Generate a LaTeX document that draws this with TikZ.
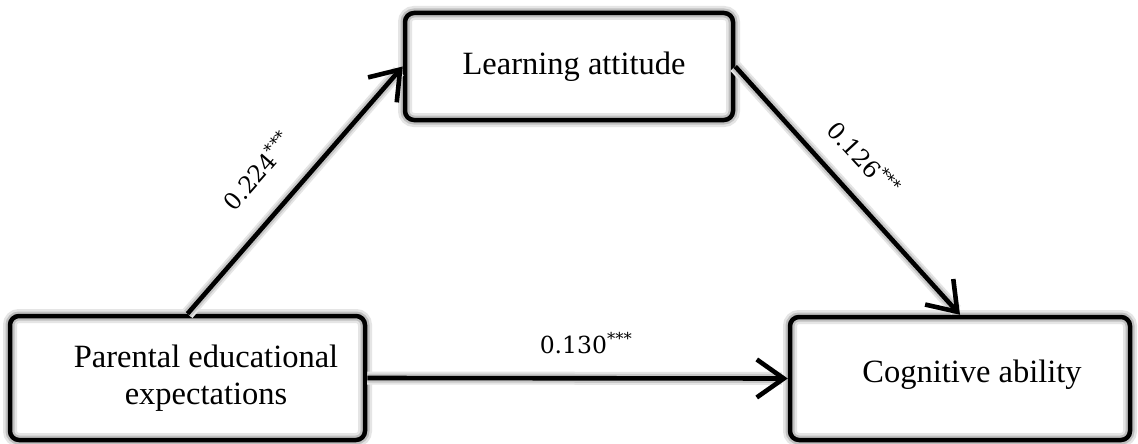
\documentclass[tikz,border=0pt]{standalone}
\usepackage{fontspec}
\setmainfont{Liberation Serif}
\newfontfamily\numfont{DejaVu Serif}
\usetikzlibrary{arrows.meta}
\tikzset{
  box/.style={rounded corners=9pt, line width=4.5pt, draw=black, inner sep=0pt,
    preaction={fill=white},
    preaction={draw=black!10, line width=14pt},
    preaction={draw=black!25, line width=9pt}},
  boxtext/.style={font=\fontsize{32.5}{37.5}\selectfont, align=center, inner sep=0pt},
  arr/.style={line width=4.6pt, -{Straight Barb[length=27pt,width=38pt]},
    preaction={draw=black!10, line width=13pt, arrows=-, shorten >=6pt},
    preaction={draw=black!22, line width=9pt, arrows=-, shorten >=6pt}},
  coef/.style={font=\numfont\fontsize{23.5}{28}\selectfont, inner sep=0pt}
}
\begin{document}
\begin{tikzpicture}[x=1pt,y=-1pt]
\fill[white] (0,0) rectangle (1138,444);
\useasboundingbox (0,0) rectangle (1138,444);
\node[box, minimum width=328pt, minimum height=107pt] (la) at (569,66.5) {};
\node[box, minimum width=355pt, minimum height=124pt] (pe) at (187.5,378) {};
\node[box, minimum width=340pt, minimum height=123pt] (ca) at (960,378.5) {};
\node[boxtext] (tla) at (574,67) {Learning attitude};
\node[boxtext] (tpe) at (206,378) {Parental educational\\expectations};
\node[boxtext] (tca) at (972,375) {Cognitive ability};
\draw[arr] (pe.north) -- (la.west);
\draw[arr] (la.east) -- (ca.north);
\draw[arr] (pe.east) -- (ca.west);
\node[coef, rotate=48.6] (c1) at (257,171) {0.224\textsuperscript{***}};
\node[coef, rotate=-47.4] (c2) at (864,158) {0.126\textsuperscript{***}};
\node[coef] (c3) at (586,343) {0.130\textsuperscript{***}};
\end{tikzpicture}
\end{document}
